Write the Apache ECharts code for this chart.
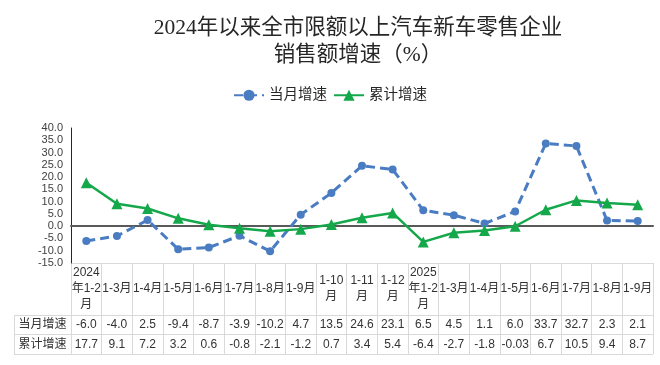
<!DOCTYPE html>
<html>
<head>
<meta charset="utf-8">
<script src="https://cdn.jsdelivr.net/npm/echarts@6/dist/echarts.min.js"></script>
<style>html,body{margin:0;padding:0;background:#fff}#c{width:660px;height:365px}</style>
</head>
<body>
<div id="c"></div>
<script>
const categories = ['2024年1-2月','1-3月','1-4月','1-5月','1-6月','1-7月','1-8月','1-9月','1-10月','1-11月','1-12月','2025年1-2月','1-3月','1-4月','1-5月','1-6月','1-7月','1-8月','1-9月'];
const seriesNames = ['当月增速','累计增速'];
const monthly = [-6.0,-4.0,2.5,-9.4,-8.7,-3.9,-10.2,4.7,13.5,24.6,23.1,6.5,4.5,1.1,6.0,33.7,32.7,2.3,2.1];
const cumulative = [17.7,9.1,7.2,3.2,0.6,-0.8,-2.1,-1.2,0.7,3.4,5.4,-6.4,-2.7,-1.8,-0.03,6.7,10.5,9.4,8.7];
const yMin = -15, yMax = 40, yStep = 5;
const titleText = '2024年以来全市限额以上汽车新车零售企业\n销售额增速（%）';

const FONT = "'Liberation Sans','Noto Sans CJK SC',sans-serif";
const CJK = "'Liberation Serif','Noto Sans CJK SC',serif";
const GRID_LINE = '#D9D9D9';
const TXT = '#333';

function headerText(name) {
  if (name.indexOf('年') >= 0) return name.replace('年', '\n年').replace(/月$/, '\n月');
  if (name.length >= 5) return name.replace(/月$/, '\n月');
  return name;
}
function fmt(v) {
  return Math.abs(v * 10 - Math.round(v * 10)) < 1e-9 ? v.toFixed(1) : String(v);
}

const chart = echarts.init(document.getElementById('c'), null, {renderer: 'canvas'});
const hidden = {axisLabel: {show: false}, axisLine: {show: false}, axisTick: {show: false}};
const split = {show: true, interval: 0, lineStyle: {color: GRID_LINE, width: 1}};

chart.setOption({
  animation: false,
  backgroundColor: '#fff',
  title: {
    text: titleText, left: 353, top: 10, textAlign: 'center',
    textStyle: {fontSize: 21.5, lineHeight: 27, fontWeight: 'normal', color: '#262626', fontFamily: CJK}
  },
  legend: {
    data: seriesNames, left: 'center', top: 83, itemWidth: 30, itemHeight: 14, itemGap: 6,
    textStyle: {fontSize: 14.5, color: '#262626', fontFamily: FONT}
  },
  grid: [
    {left: 71, width: 582, top: 128, height: 135},
    {left: 71, width: 582, top: 263, height: 52},
    {left: 71, width: 582, top: 315, height: 39},
    {left: 14, width: 57, top: 315, height: 39}
  ],
  xAxis: [
    {gridIndex: 0, type: 'category', data: categories, boundaryGap: true,
     axisLine: {onZero: true, lineStyle: {color: '#595959', width: 2}},
     axisTick: {show: false}, axisLabel: {show: false}, splitLine: {show: false}},
    {gridIndex: 1, type: 'category', data: categories, position: 'top',
     axisLine: {show: false}, axisTick: {show: false},
     axisLabel: {inside: true, interval: 0, margin: 26, verticalAlign: 'middle', align: 'center',
       formatter: (v, i) => headerText(categories[i]), fontSize: 12, lineHeight: 16, color: TXT, fontFamily: FONT},
     splitLine: split},
    {gridIndex: 2, type: 'category', data: categories, position: 'top',
     axisLine: {show: false}, axisTick: {show: false},
     axisLabel: {inside: true, interval: 0, margin: 9.75, verticalAlign: 'middle', align: 'center',
       formatter: (v, i) => fmt(monthly[i]), fontSize: 12, color: TXT, fontFamily: FONT},
     splitLine: split},
    {gridIndex: 2, type: 'category', data: categories, position: 'bottom',
     axisLine: {show: false}, axisTick: {show: false},
     axisLabel: {inside: true, interval: 0, margin: 9.75, verticalAlign: 'middle', align: 'center',
       formatter: (v, i) => fmt(cumulative[i]), fontSize: 12, color: TXT, fontFamily: FONT},
     splitLine: {show: false}},
    Object.assign({gridIndex: 3, type: 'value', min: 0, max: 1, interval: 1, splitLine: split}, hidden)
  ],
  yAxis: [
    {gridIndex: 0, type: 'value', min: yMin, max: yMax, interval: yStep,
     axisLine: {show: true, lineStyle: {color: '#262626', width: 1}},
     axisTick: {show: false}, splitLine: {show: false},
     axisLabel: {formatter: v => v.toFixed(1), fontSize: 11, color: '#404040', margin: 8, fontFamily: FONT}},
    Object.assign({gridIndex: 1, type: 'value', min: 0, max: 1, interval: 1, splitLine: split}, hidden),
    Object.assign({gridIndex: 2, type: 'category', data: seriesNames, inverse: true, splitLine: split}, hidden),
    {gridIndex: 3, type: 'category', data: seriesNames, inverse: true,
     axisLine: {show: false}, axisTick: {show: false}, splitLine: split,
     axisLabel: {inside: true, margin: 28.5, align: 'center', verticalAlign: 'middle', fontSize: 12, color: TXT, fontFamily: FONT}}
  ],
  series: [
    {name: seriesNames[0], type: 'line', xAxisIndex: 0, yAxisIndex: 0, data: monthly,
     symbol: 'circle', symbolSize: 8, color: '#4A7CC2',
     lineStyle: {width: 3, type: [9, 5], color: '#4A7CC2'},
     itemStyle: {color: '#4A7CC2'}},
    {name: seriesNames[1], type: 'line', xAxisIndex: 0, yAxisIndex: 0, data: cumulative,
     symbol: 'triangle', symbolSize: 11, color: '#14A84B',
     lineStyle: {width: 2.5, color: '#14A84B'},
     itemStyle: {color: '#14A84B'}}
  ]
});
</script>
</body>
</html>
